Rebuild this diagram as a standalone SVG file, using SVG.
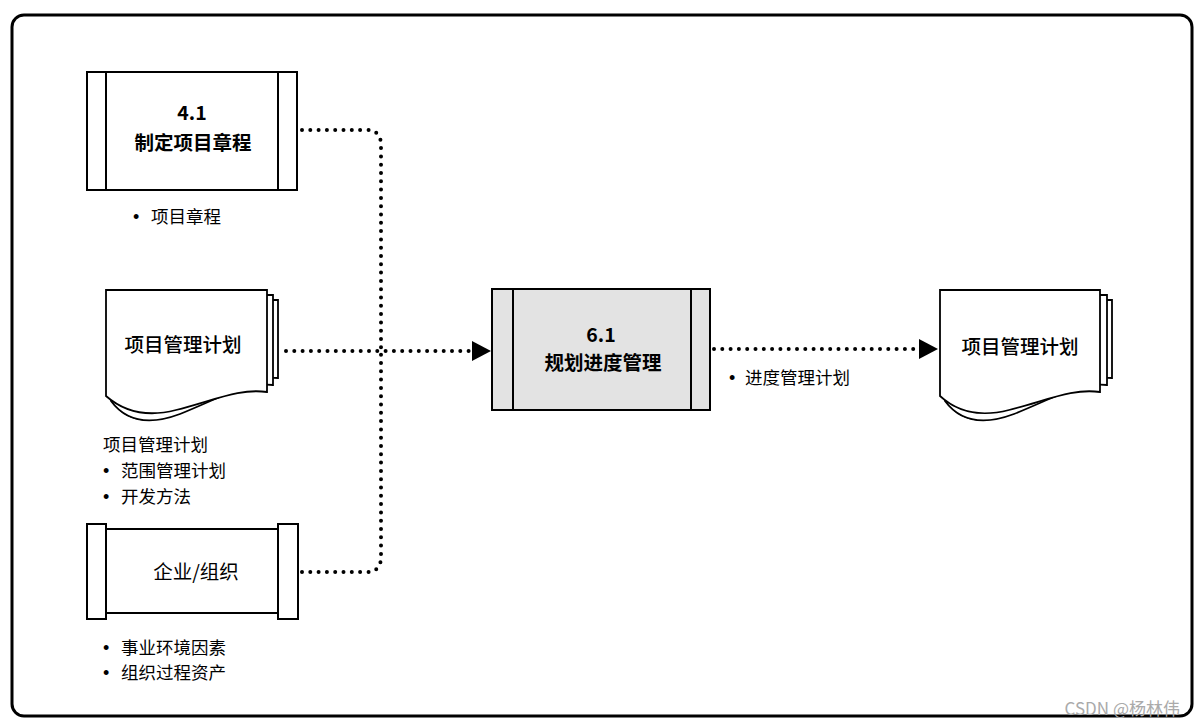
<svg xmlns="http://www.w3.org/2000/svg" width="1200" height="726" viewBox="0 0 1200 726">
<style>
.t{font-family:"Noto Sans CJK SC","Noto Sans",sans-serif;fill:#000}
.b{font-weight:bold;font-size:19.5px}
.m{font-size:19.5px;font-weight:500}
.r{font-size:19.5px}
.l{font-size:17.5px}
.bu{font-family:"Liberation Sans",sans-serif;font-size:18px}
.box{fill:#fff;stroke:#000;stroke-width:2}
.dot{fill:none;stroke:#000;stroke-width:4;stroke-linecap:round;stroke-dasharray:0 8.3}
.page{fill:#fff;stroke:#000;stroke-width:1.8}
</style>
<defs>
<marker id="ah" markerUnits="userSpaceOnUse" markerWidth="22" markerHeight="24" refX="20" refY="11" orient="auto">
<path d="M1,1 L20,11 L1,21 Z" fill="#000"/>
</marker>
</defs>
<rect x="12" y="15" width="1180" height="701" rx="12" fill="#fff" stroke="#000" stroke-width="3"/>

<g id="connectors">
<path class="dot" d="M302,130 H366 Q381,130 381,145 V350"/>
<path class="dot" d="M302,572 H366 Q381,572 381,557 V350"/>
<path class="dot" d="M286,351 H470"/>
<path d="M471,351 H491" stroke="none" fill="none" marker-end="url(#ah)"/>
<path class="dot" d="M714,349 H917"/>
<path d="M917,349 H938" stroke="none" fill="none" marker-end="url(#ah)"/>
</g>

<g id="n41">
<rect class="box" x="87" y="72" width="210" height="118"/>
<line x1="106" y1="72" x2="106" y2="190" stroke="#000" stroke-width="2"/>
<line x1="278" y1="72" x2="278" y2="190" stroke="#000" stroke-width="2"/>
<text class="t b" x="192" y="120" text-anchor="middle">4.1</text>
<text class="t b" x="193" y="150" text-anchor="middle">制定项目章程</text>
<text class="t bu" x="133" y="223">•</text><text class="t l" x="151" y="223">项目章程</text>
</g>

<g id="doc1">
<path class="page" d="M116,300 H278 V378 C250,376 225,392 185,410 C150,425 130,422 116,406 Z"/>
<path class="page" d="M111,295 H273 V385 C245,382 220,398 180,414 C148,426 125,420 111,401 Z"/>
<path class="page" d="M106,290 H267 V392 C240,388 215,400 176,410 C145,418 122,410 106,396 Z"/>
<text class="t m" x="183" y="352" text-anchor="middle">项目管理计划</text>
<text class="t l" x="103" y="451">项目管理计划</text>
<text class="t bu" x="103" y="477">•</text><text class="t l" x="121" y="477">范围管理计划</text>
<text class="t bu" x="103" y="503">•</text><text class="t l" x="121" y="503">开发方法</text>
</g>

<g id="org">
<rect class="box" x="106" y="529" width="172" height="84"/>
<rect class="box" x="87" y="524" width="19" height="95"/>
<rect class="box" x="278" y="524" width="20" height="95"/>
<text class="t r" x="196" y="579" text-anchor="middle">企业/组织</text>
<text class="t bu" x="103" y="654">•</text><text class="t l" x="121" y="654">事业环境因素</text>
<text class="t bu" x="103" y="679">•</text><text class="t l" x="121" y="679">组织过程资产</text>
</g>

<g id="n61">
<rect x="492" y="289" width="218" height="121" fill="#e3e3e3" stroke="#000" stroke-width="2"/>
<line x1="513" y1="289" x2="513" y2="410" stroke="#000" stroke-width="2"/>
<line x1="691" y1="289" x2="691" y2="410" stroke="#000" stroke-width="2"/>
<text class="t b" x="601" y="342" text-anchor="middle">6.1</text>
<text class="t b" x="603" y="370" text-anchor="middle">规划进度管理</text>
<text class="t bu" x="729" y="384">•</text><text class="t l" x="745" y="384">进度管理计划</text>
</g>

<g id="doc2">
<path class="page" d="M950,300 H1112 V378 C1084,376 1059,392 1019,410 C984,425 964,422 950,406 Z"/>
<path class="page" d="M945,295 H1107 V385 C1079,382 1054,398 1014,414 C982,426 959,420 945,401 Z"/>
<path class="page" d="M940,290 H1100 V392 C1073,388 1048,400 1009,410 C978,418 955,410 940,396 Z"/>
<text class="t m" x="1020" y="354" text-anchor="middle">项目管理计划</text>
</g>

<text x="1180" y="715" text-anchor="end" font-family="Noto Sans CJK SC,sans-serif" font-size="17" fill="#aaa">CSDN @杨林伟</text>
</svg>
